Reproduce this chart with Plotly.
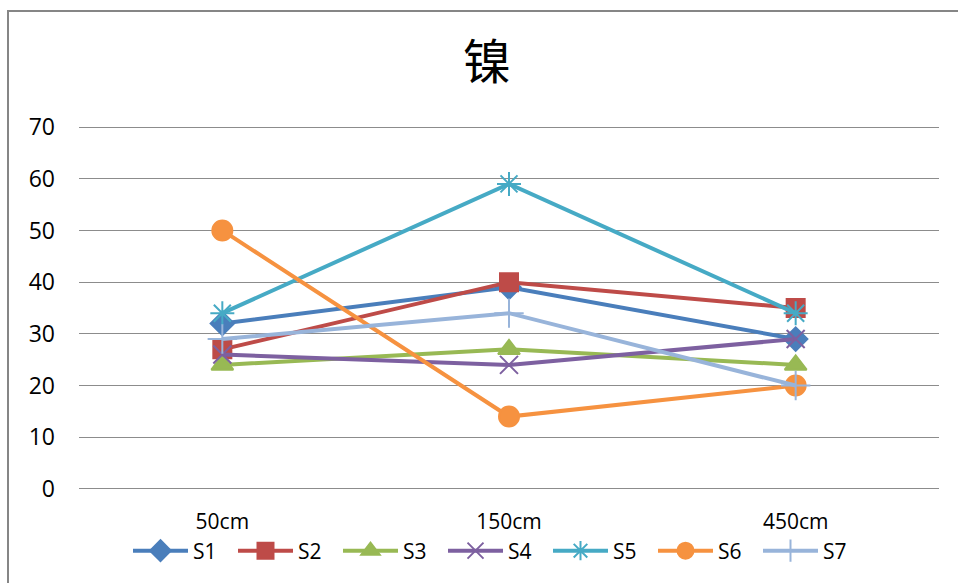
import plotly.graph_objects as go

categories = ["50cm", "150cm", "450cm"]
series_names = ["S1", "S2", "S3", "S4", "S5", "S6", "S7"]
s1 = [32, 39, 29]
s2 = [27, 40, 35]
s3 = [24, 27, 24]
s4 = [26, 24, 29]
s5 = [34, 59, 34]
s6 = [50, 14, 20]
s7 = [29, 34, 20]
series_values = [s1, s2, s3, s4, s5, s6, s7]
y_ticks = [0, 10, 20, 30, 40, 50, 60, 70]

colors = ["#4A7EBB", "#BE4B48", "#98B954", "#7D60A0", "#46AAC5", "#F69240", "#98B4DA"]
symbols = ["diamond", "square", "triangle-up", "x-thin-open", "asterisk-open", "circle", "cross-thin-open"]
sizes = [18, 18, 19, 18, 20, 20, 21]

W, H = 958, 583
L, R, T, B = 79, 19, 126, 93
pw, ph = W - L - R, H - T - B

fig = go.Figure()
for name, vals, c, sym, sz in zip(series_names, series_values, colors, symbols, sizes):
    fig.add_trace(go.Scatter(
        x=categories, y=vals, name=name, mode="lines+markers",
        line=dict(color=c, width=4),
        marker=dict(symbol=sym, size=sz, color=c, line=dict(color=c, width=2)),
    ))

def px_x(x):
    return (x - L) / pw

def px_y(y):
    return (H - B - y) / ph

fig.update_layout(
    width=W, height=H,
    margin=dict(l=L, r=R, t=T, b=B),
    paper_bgcolor="white", plot_bgcolor="white",
    font=dict(family="Open Sans", size=23, color="#000000"),
    title=dict(text="镍", font=dict(family="Noto Sans CJK SC", size=48, color="#000000"),
               x=487 / W, xanchor="center", xref="container",
               y=1 - 62 / H, yanchor="middle", yref="container"),
    xaxis=dict(type="category", range=[-0.5, 2.5], showgrid=False, showline=False,
               zeroline=False, ticks="", ticklabelstandoff=17,
               tickfont=dict(family="Open Sans", size=21, color="#000000")),
    yaxis=dict(range=[-0.2, 70.2], tickvals=y_ticks, showgrid=True, gridcolor="#8C8C8C",
               gridwidth=1, zeroline=False, showline=False, ticks="",
               ticklabelstandoff=23,
               tickfont=dict(family="Open Sans", size=23, color="#000000")),
    showlegend=True,
    legend=dict(orientation="h", x=px_x(128), xanchor="left", y=px_y(551), yanchor="middle",
                font=dict(family="Open Sans", size=21, color="#000000"),
                itemwidth=55, entrywidth=35, tracegroupgap=0, bgcolor="rgba(0,0,0,0)"),
    shapes=[dict(type="rect", xref="paper", yref="paper",
                 x0=px_x(8), x1=px_x(990), y0=px_y(620), y1=px_y(11),
                 line=dict(color="#868686", width=2), fillcolor="rgba(0,0,0,0)", layer="below")],
)

fig.write_html("out.html")
